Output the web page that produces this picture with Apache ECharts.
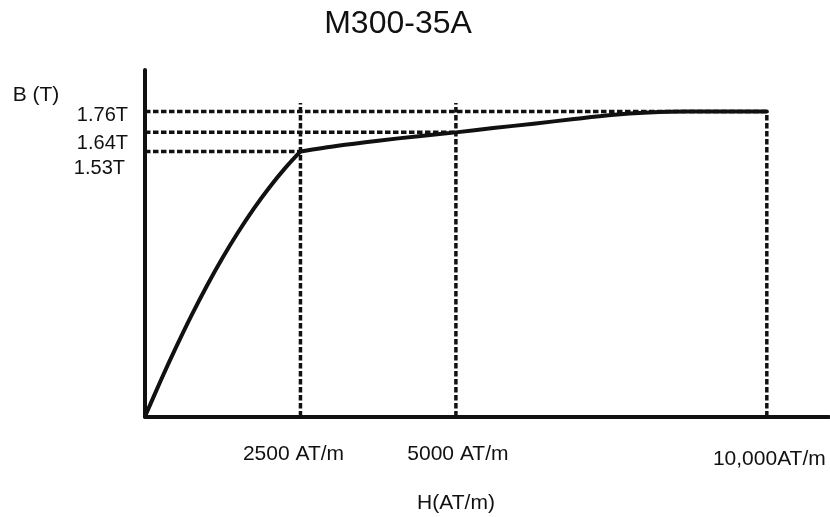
<!DOCTYPE html>
<html>
<head>
<meta charset="utf-8">
<title>M300-35A</title>
<script src="https://cdn.jsdelivr.net/npm/echarts@6/dist/echarts.min.js"></script>
<style>
  html, body { margin: 0; padding: 0; background: #ffffff; }
  #chart { width: 830px; height: 517px; }
</style>
</head>
<body>
<div id="chart"></div>
<script>
// Magnetisation (B-H) curve of M300-35A electrical steel
// Rising part up to the knee
const riseH = [0, 250, 500, 750, 1000, 1250, 1500, 1750, 2000, 2250, 2500];
const riseB = [0, 0.205, 0.400, 0.585, 0.758, 0.918, 1.065, 1.200, 1.322, 1.432, 1.53];
// Saturation part after the knee
const satH = [2500, 3100, 3750, 4400, 5000, 5600, 6250, 6900, 7500, 8100, 8700, 10000];
const satB = [1.53, 1.563, 1.592, 1.618, 1.64, 1.665, 1.69, 1.717, 1.74, 1.754, 1.76, 1.76];

// Marked operating points
const fieldH = [2500, 5000, 10000];
const fluxB = [1.53, 1.64, 1.76];
const guideTopB = [1.81, 1.81, 1.76];
const hTickLabels = ['2500 AT/m', '5000 AT/m', '10,000AT/m'];
const bTickLabels = ['1.53T', '1.64T', '1.76T'];

const FONT = '"Liberation Sans", Arial, sans-serif';
const INK = '#111111';

const dashStyle = { color: INK, width: 3.5, type: [5.5, 2.5] };
const curveStyle = { color: INK, width: 4, cap: 'round', join: 'round' };

const guideSeries = [];
fieldH.forEach(function (h, i) {
  // horizontal guide from the B axis to the point
  guideSeries.push({
    type: 'line', silent: true, symbol: 'none', z: 2,
    data: [[0, fluxB[i]], [h, fluxB[i]]],
    lineStyle: dashStyle
  });
  // vertical guide from the H axis up through the point
  guideSeries.push({
    type: 'line', silent: true, symbol: 'none', z: 2,
    data: [[h, 0], [h, guideTopB[i]]],
    lineStyle: dashStyle
  });
});

function pairs(xs, ys) {
  return xs.map(function (x, i) { return [x, ys[i]]; });
}

function tok(size, pad) {
  return { fontSize: size, fontFamily: FONT, color: INK, padding: pad };
}

const option = {
  animation: false,
  backgroundColor: '#ffffff',
  grid: { left: 145, top: 70, right: 1, bottom: 100.5, containLabel: false },
  xAxis: {
    type: 'value', min: 0, max: 11000,
    axisLine: { show: true, lineStyle: { color: INK, width: 4 } },
    axisTick: { show: false },
    splitLine: { show: false },
    axisLabel: {
      customValues: fieldH,
      margin: 26,
      fontSize: 21, fontFamily: FONT, color: INK,
      formatter: function (v) {
        const i = fieldH.indexOf(v);
        return '{x' + i + '|' + hTickLabels[i] + '}';
      },
      rich: {
        x0: tok(21, [1.5, 14, 0, 0]),
        x1: tok(21, [1.5, 0, 0, 4]),
        x2: tok(21, [6, 0, 0, 5])
      }
    }
  },
  yAxis: {
    type: 'value', min: 0, max: 2,
    axisLine: { show: true, lineStyle: { color: INK, width: 4 } },
    axisTick: { show: false },
    splitLine: { show: false },
    axisLabel: {
      customValues: fluxB,
      margin: 17,
      fontSize: 20, fontFamily: FONT, color: INK,
      formatter: function (v) {
        const i = fluxB.indexOf(v);
        return '{y' + i + '|' + bTickLabels[i] + '}';
      },
      rich: {
        y0: tok(20, [35, 3, 0, 0]),
        y1: tok(20, [23, 0, 0, 0]),
        y2: tok(20, [8, 0, 0, 0])
      }
    }
  },
  graphic: [
    { type: 'text', x: 398, y: 24,
      style: { text: 'M300-35A', font: '32px ' + FONT, fill: INK, align: 'center', verticalAlign: 'middle' } },
    { type: 'text', x: 36, y: 95,
      style: { text: 'B (T)', font: '21px ' + FONT, fill: INK, align: 'center', verticalAlign: 'middle' } },
    { type: 'text', x: 456, y: 503,
      style: { text: 'H(AT/m)', font: '21px ' + FONT, fill: INK, align: 'center', verticalAlign: 'middle' } }
  ],
  series: guideSeries.concat([
    {
      type: 'line', name: 'B-H rise', symbol: 'none', z: 3,
      smooth: 0.3,
      data: pairs(riseH, riseB),
      lineStyle: curveStyle
    },
    {
      type: 'line', name: 'B-H saturation', symbol: 'none', z: 3,
      smooth: 0.3,
      data: pairs(satH, satB),
      lineStyle: curveStyle
    }
  ])
};

const chart = echarts.init(document.getElementById('chart'), null, { renderer: 'canvas' });
chart.setOption(option);
</script>
</body>
</html>
